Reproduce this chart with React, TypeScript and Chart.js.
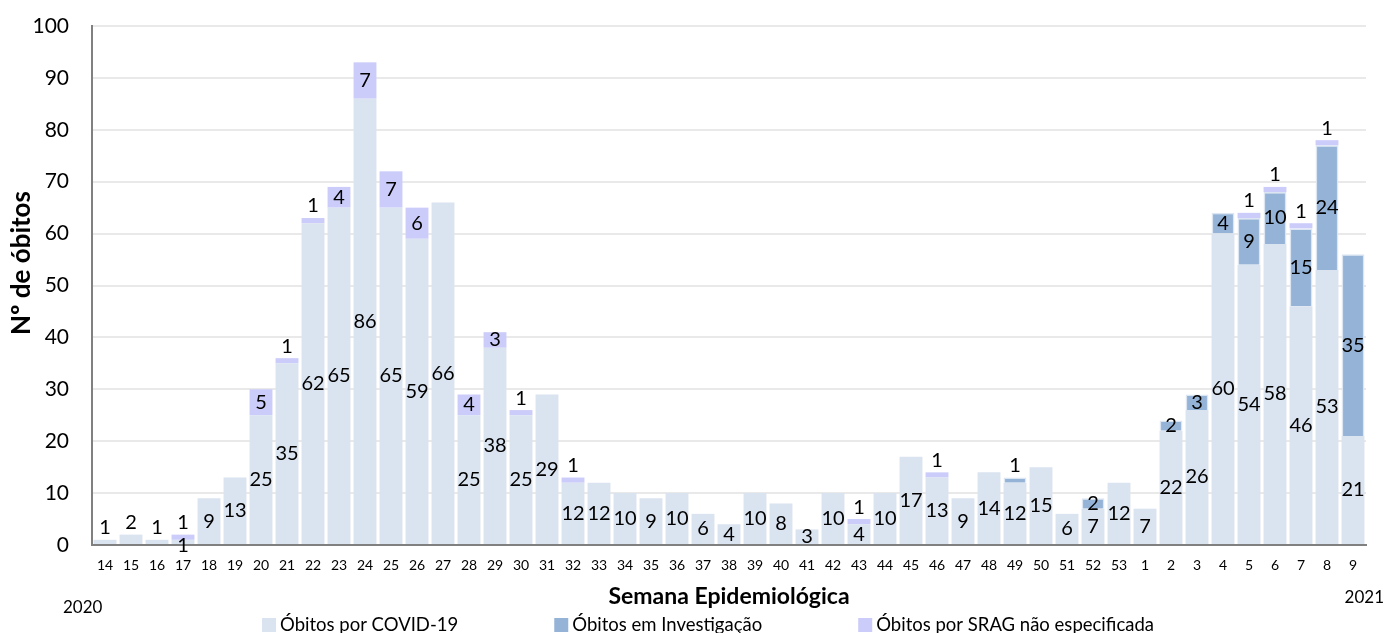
import React, { useEffect, useRef } from "react";
import { Chart, registerables } from "chart.js";

Chart.register(...registerables);

const weeks: string[] = [
  "14","15","16","17","18","19","20","21","22","23","24","25","26","27","28","29","30","31","32","33",
  "34","35","36","37","38","39","40","41","42","43","44","45","46","47","48","49","50","51","52","53",
  "1","2","3","4","5","6","7","8","9",
];

const covid: number[] = [
  1, 2, 1, 1, 9, 13, 25, 35, 62, 65, 86, 65, 59, 66, 25, 38, 25, 29, 12, 12,
  10, 9, 10, 6, 4, 10, 8, 3, 10, 4, 10, 17, 13, 9, 14, 12, 15, 6, 7, 12,
  7, 22, 26, 60, 54, 58, 46, 53, 21,
];

const investigacao: number[] = [
  0, 0, 0, 0, 0, 0, 0, 0, 0, 0, 0, 0, 0, 0, 0, 0, 0, 0, 0, 0,
  0, 0, 0, 0, 0, 0, 0, 0, 0, 0, 0, 0, 0, 0, 0, 1, 0, 0, 2, 0,
  0, 2, 3, 4, 9, 10, 15, 24, 35,
];

const srag: number[] = [
  0, 0, 0, 1, 0, 0, 5, 1, 1, 4, 7, 7, 6, 0, 4, 3, 1, 0, 1, 0,
  0, 0, 0, 0, 0, 0, 0, 0, 0, 1, 0, 0, 1, 0, 0, 0, 0, 0, 0, 0,
  0, 0, 0, 0, 1, 1, 1, 1, 0,
];

const seriesNames: string[] = [
  "Óbitos por COVID-19",
  "Óbitos em Investigação",
  "Óbitos por SRAG não especificada",
];

const seriesColors: string[] = ["#dae3f0", "#95b3d7", "#ccccfa"];

const yTicks: number[] = [0, 10, 20, 30, 40, 50, 60, 70, 80, 90, 100];
const yearLabels: string[] = ["2020", "2021"];
const yTitle = "Nº de óbitos";
const xTitle = "Semana Epidemiológica";

const FONT = 'Lato, "Open Sans", sans-serif';

const labelPlugin = {
  id: "segLabels",
  afterDatasetsDraw(chart: any) {
    const ctx = chart.ctx;
    ctx.save();
    ctx.font = `20px ${FONT}`;
    ctx.fillStyle = "#000";
    ctx.textAlign = "center";
    ctx.textBaseline = "middle";
    const n = chart.data.labels.length;
    const dsCount = chart.data.datasets.length;
    for (let j = 0; j < n; j++) {
      let topIdx = -1;
      for (let i = 0; i < dsCount; i++) {
        if ((chart.data.datasets[i].data[j] as number) > 0) topIdx = i;
      }
      for (let i = 0; i < dsCount; i++) {
        const v = chart.data.datasets[i].data[j] as number;
        if (!v) continue;
        const el: any = chart.getDatasetMeta(i).data[j];
        const top = Math.min(el.y, el.base);
        const bottom = Math.max(el.y, el.base);
        const h = bottom - top;
        const small = i === 0 ? h < 12 : h < 8;
        let y: number;
        if (!small) {
          y = (top + bottom) / 2;
        } else if (i === topIdx) {
          y = top - 12;
        } else {
          y = bottom + 2;
        }
        ctx.fillText(String(v), el.x, y);
      }
    }
    ctx.restore();
  },
};

const decorPlugin = {
  id: "decor",
  afterDraw(chart: any) {
    const ctx = chart.ctx;
    ctx.save();
    // year labels
    ctx.font = `17px ${FONT}`;
    ctx.fillStyle = "#000";
    ctx.textBaseline = "middle";
    ctx.textAlign = "left";
    ctx.fillText(yearLabels[0], 63, 608);
    ctx.textAlign = "right";
    ctx.fillText(yearLabels[1], 1384, 598);

    // y title
    ctx.save();
    ctx.font = `bold 26px ${FONT}`;
    ctx.textAlign = "center";
    ctx.textBaseline = "middle";
    ctx.translate(22, 263);
    ctx.rotate(-Math.PI / 2);
    ctx.fillText(yTitle, 0, 0);
    ctx.restore();

    // legend
    ctx.font = `18.5px ${FONT}`;
    ctx.textAlign = "left";
    ctx.textBaseline = "middle";
    const box = 14;
    const gapText = 4;
    const gapItem = 96;
    const widths = seriesNames.map((s) => ctx.measureText(s).width);
    const total =
      widths.reduce((a, b) => a + b, 0) + seriesNames.length * (box + gapText) + gapItem * (seriesNames.length - 1);
    let x = 708 - total / 2;
    const cy = 625;
    seriesNames.forEach((s, i) => {
      ctx.fillStyle = seriesColors[i];
      ctx.fillRect(x, cy - box / 2, box, box);
      ctx.fillStyle = "#000";
      ctx.fillText(s, x + box + gapText, cy);
      x += box + gapText + widths[i] + gapItem;
    });
    ctx.restore();
  },
};

export default function App() {
  const ref = useRef<HTMLCanvasElement | null>(null);
  useEffect(() => {
    if (!ref.current) return;
    const chart = new Chart(ref.current, {
      type: "bar",
      data: {
        labels: weeks,
        datasets: [
          {
            label: seriesNames[0],
            data: covid,
            backgroundColor: seriesColors[0],
            borderWidth: 0,
            stack: "s",
          },
          {
            label: seriesNames[1],
            data: investigacao,
            backgroundColor: seriesColors[1],
            borderColor: "#dce6f2",
            borderWidth: 1.5,
            stack: "s",
          },
          {
            label: seriesNames[2],
            data: srag,
            backgroundColor: seriesColors[2],
            borderWidth: 0,
            stack: "s",
          },
        ],
      },
      options: {
        responsive: true,
        maintainAspectRatio: false,
        animation: false,
        layout: { padding: { left: 0, right: 20, top: 26, bottom: 23 } },
        datasets: { bar: { barPercentage: 0.88, categoryPercentage: 1.0 } },
        plugins: {
          legend: { display: false },
          tooltip: { enabled: false },
        },
        scales: {
          x: {
            stacked: true,
            grid: { display: false, drawTicks: false },
            border: { color: "#808080", width: 2 },
            afterFit: (axis: any) => {
              axis.height = 65;
              axis.paddingTop = 0;
              axis.paddingBottom = 0;
            },
            ticks: {
              color: "#000",
              font: { family: FONT, size: 14 },
              padding: 12,
              maxRotation: 0,
              autoSkip: false,
            },
            title: {
              display: true,
              text: xTitle,
              color: "#000",
              font: { family: FONT, size: 23, weight: "bold" },
              padding: { top: 0, bottom: 0 },
            },
          },
          y: {
            stacked: true,
            min: yTicks[0],
            max: yTicks[yTicks.length - 1],
            afterBuildTicks: (axis: any) => {
              axis.ticks = yTicks.map((v) => ({ value: v }));
            },
            afterFit: (axis: any) => {
              axis.width = 92;
              axis.paddingTop = 0;
              axis.paddingBottom = 0;
            },
            grid: { color: "#e9e9e9", lineWidth: 2, drawTicks: false },
            border: { color: "#808080", width: 2 },
            ticks: {
              color: "#000",
              font: { family: FONT, size: 21 },
              padding: 23,
            },
          },
        },
      },
      plugins: [labelPlugin, decorPlugin],
    } as any);
    return () => chart.destroy();
  }, []);
  return (
    <div style={{ position: "absolute", left: 0, top: 0, width: 1386, height: 633, background: "#fff" }}>
      <canvas ref={ref} />
    </div>
  );
}
